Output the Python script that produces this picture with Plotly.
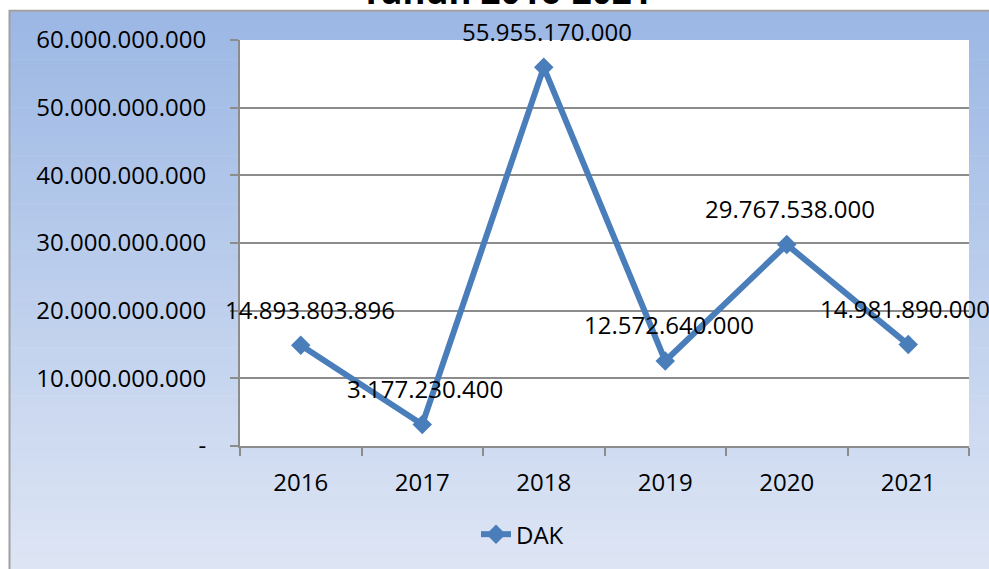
import plotly.graph_objects as go

years = ["2016", "2017", "2018", "2019", "2020", "2021"]
dak = [14893803896, 3177230400, 55955170000, 12572640000, 29767538000, 14981890000]
dak_labels = ["14.893.803.896", "3.177.230.400", "55.955.170.000",
              "12.572.640.000", "29.767.538.000", "14.981.890.000"]
y_tickvals = [0, 10e9, 20e9, 30e9, 40e9, 50e9, 60e9]
y_ticktext = ["-", "10.000.000.000", "20.000.000.000", "30.000.000.000",
              "40.000.000.000", "50.000.000.000", "60.000.000.000"]
title_text = "Tahun 2016-2021"
series_name = "DAK"

W, H = 989, 569
ML, MR, MT, MB = 240, 20, 40, 121
PW, PH = W - ML - MR, H - MT - MB

def px_x(p):
    return (p - ML) / PW

def px_y(p):
    return (H - MB - p) / PH

FONT = "Open Sans"
LINE_COLOR = "#4A7EBB"
GRAY = "#8C8C8C"

fig = go.Figure()
fig.add_trace(go.Scatter(
    x=years, y=dak, name=series_name, mode="lines+markers",
    line=dict(color=LINE_COLOR, width=6),
    marker=dict(symbol="diamond", size=15, color=LINE_COLOR),
))

# gradient chart-area background built from horizontal strips
shapes = []
top_c = (155, 183, 228)
bot_c = (224, 231, 245)
y0, y1 = 11, 590
n = 60
for i in range(n):
    a = y0 + (y1 - y0) * i / n
    b = y0 + (y1 - y0) * (i + 1) / n
    t = (i + 0.5) / n
    c = tuple(int(round(top_c[k] + (bot_c[k] - top_c[k]) * t)) for k in range(3))
    shapes.append(dict(type="rect", xref="paper", yref="paper", layer="below",
                       x0=px_x(9), x1=px_x(1000), y0=px_y(b + 0.6), y1=px_y(a),
                       line=dict(width=0), fillcolor="rgb(%d,%d,%d)" % c))
# white plot area
shapes.append(dict(type="rect", xref="paper", yref="paper", layer="below",
                   x0=0, x1=1, y0=0, y1=1, line=dict(width=0), fillcolor="white"))
# outer frame
shapes.append(dict(type="rect", xref="paper", yref="paper", layer="below",
                   x0=px_x(9.5), x1=px_x(1005), y0=px_y(600), y1=px_y(10.5),
                   line=dict(width=2, color="#A0A0A0"), fillcolor="rgba(0,0,0,0)"))

label_xshift = [9, 3, 3, 4, 3, -3]
annotations = []
for i, (v, lab) in enumerate(zip(dak, dak_labels)):
    annotations.append(dict(x=i, y=v, xref="x", yref="y", text=lab, showarrow=False,
                            yshift=36, xshift=label_xshift[i],
                            font=dict(family=FONT, size=24, color="black")))
annotations.append(dict(x=px_x(506), y=px_y(-10), xref="paper", yref="paper", text="<b>" + title_text + "</b>",
                        showarrow=False, xanchor="center", yanchor="middle",
                        font=dict(family=FONT, size=35, color="black")))

fig.update_layout(
    width=W, height=H,
    margin=dict(l=ML, r=MR, t=MT, b=MB, pad=0),
    paper_bgcolor="white", plot_bgcolor="white",
    font=dict(family=FONT, size=24, color="black"),
    shapes=shapes, annotations=annotations,
    showlegend=True,
    legend=dict(orientation="h", x=px_x(476), xanchor="left", y=px_y(537), yanchor="middle",
                bgcolor="rgba(0,0,0,0)", font=dict(family=FONT, size=24, color="black")),
    xaxis=dict(type="category", range=[-0.5, 5.5], autorange=False, tickson="boundaries",
               ticks="outside", ticklen=8, tickwidth=2, tickangle=0,
               tickcolor=GRAY, showline=True, linecolor=GRAY, linewidth=2, showgrid=False,
               ticklabelstandoff=14, fixedrange=True),
    yaxis=dict(range=[0, 60e9], tickvals=y_tickvals, ticktext=y_ticktext, ticks="outside",
               ticklen=8, tickwidth=2, tickcolor=GRAY, showline=True, linecolor=GRAY, linewidth=2,
               showgrid=True, gridcolor=GRAY, gridwidth=2, zeroline=False,
               ticklabelstandoff=19, fixedrange=True),
)

fig.write_html("out.html")
